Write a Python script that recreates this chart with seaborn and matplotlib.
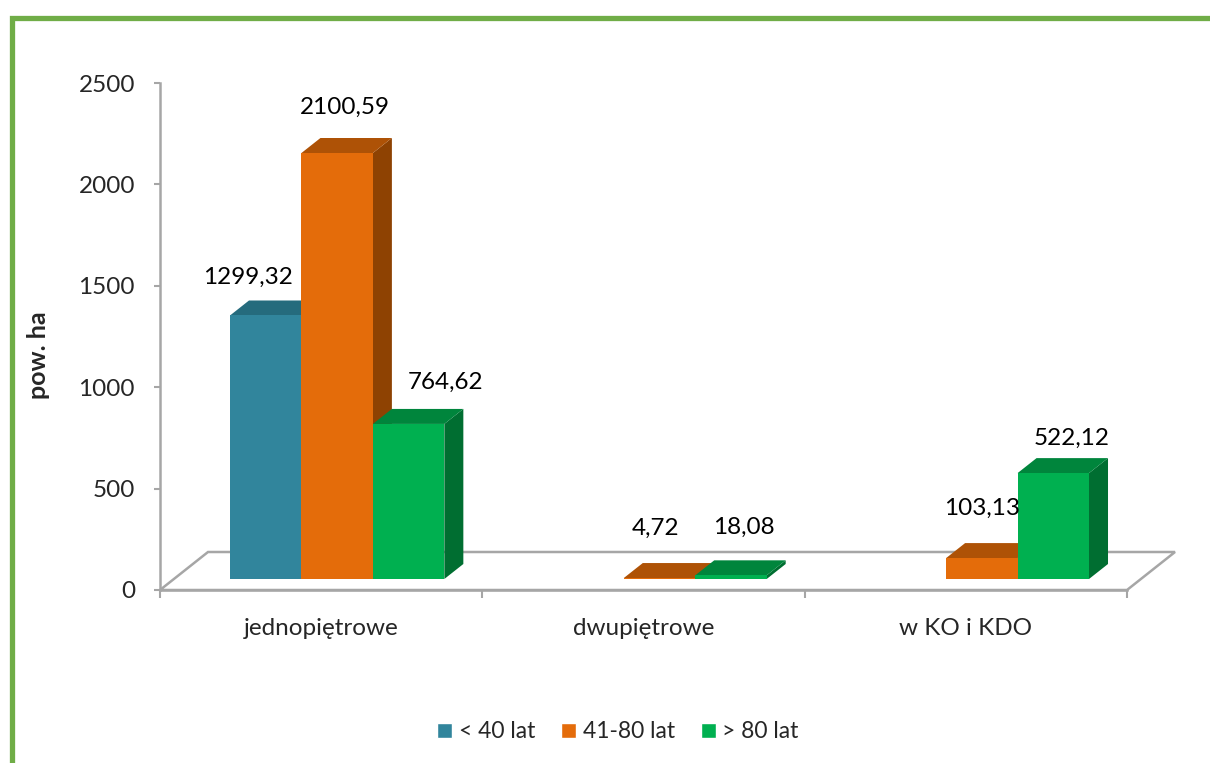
import numpy as np
import pandas as pd
import seaborn as sns
import matplotlib.pyplot as plt
from matplotlib.patches import Polygon, Rectangle, Patch

# chart data
categories = ["jednopiętrowe", "dwupiętrowe", "w KO i KDO"]
age_groups = ["< 40 lat", "41-80 lat", "> 80 lat"]
under_40 = [1299.32, 0.0, 0.0]
from_41_to_80 = [2100.59, 4.72, 103.13]
over_80 = [764.62, 18.08, 522.12]
y_ticks = [0, 500, 1000, 1500, 2000, 2500]

df = pd.DataFrame({
    "kategoria": categories * 3,
    "wiek": np.repeat(age_groups, 3),
    "pow": under_40 + from_41_to_80 + over_80,
})

front_col = {"< 40 lat": "#31859C", "41-80 lat": "#E46C0A", "> 80 lat": "#00B050"}
top_col = {"< 40 lat": "#256B7D", "41-80 lat": "#AE5206", "> 80 lat": "#00853C"}
side_col = {"< 40 lat": "#1E5868", "41-80 lat": "#8E4202", "> 80 lat": "#006E31"}

# label nudges in pixels (x, y above front top edge)
nudge = {"1299,32": (-18, 38), "2100,59": (8, 46), "764,62": (37, 42),
         "4,72": (-4, 50), "18,08": (13, 48), "103,13": (0, 50), "522,12": (18, 35)}

sns.set_style("white")
plt.rcParams["font.family"] = ["Lato", "DejaVu Sans"]
FS = 17.5

W, H = 1210, 763
fig = plt.figure(figsize=(W / 100, H / 100), dpi=100)
ax = fig.add_axes([160 / W, 173 / H, 967 / W, 507 / H])

sns.barplot(data=df, x="kategoria", y="pow", hue="wiek", hue_order=age_groups,
            palette=front_col, saturation=1, width=0.665, linewidth=0,
            legend=False, ax=ax)

ax.set_xlim(-0.5, 2.5)
ax.set_ylim(0, 2500)

# pixel -> data conversion
ppx = 967 / 3.0
ppy = 507 / 2500.0
fx, fy = 16 / ppx, 11 / ppy        # bar front plane offset
dx, dy = 19 / ppx, 15 / ppy        # bar depth
flx, fly = 48 / ppx, 38 / ppy      # floor depth

grey = "#A6A6A6"
# floor
floor = Polygon([(-0.5, 0), (2.5, 0), (2.5 + flx, fly), (-0.5 + flx, fly)],
                closed=True, fill=False, edgecolor=grey, lw=1.8, clip_on=False, zorder=1)
ax.add_patch(floor)

z = 2
for grp, cont in zip(age_groups, ax.containers):
    for bar in cont:
        h = bar.get_height()
        if not h or np.isnan(h):
            bar.set_visible(False)
            continue
        x0 = bar.get_x() + fx
        w = bar.get_width()
        x1 = x0 + w
        b = fy
        t = fy + h
        side = Polygon([(x1, b), (x1 + dx, b + dy), (x1 + dx, t + dy), (x1, t)],
                       closed=True, facecolor=side_col[grp], lw=0, clip_on=False, zorder=z)
        top = Polygon([(x0, t), (x1, t), (x1 + dx, t + dy), (x0 + dx, t + dy)],
                      closed=True, facecolor=top_col[grp], lw=0, clip_on=False, zorder=z)
        ax.add_patch(side)
        ax.add_patch(top)
        bar.set_x(x0)
        bar.set_y(b)
        bar.set_zorder(z + 0.5)
        bar.set_clip_on(False)
        lab = f"{h:.2f}".replace(".", ",")
        nx, ny = nudge.get(lab, (0, 40))
        ax.text(x0 + w / 2 + nx / ppx, t + ny / ppy, lab, ha="center", va="center",
                fontsize=FS, color="black", zorder=10, clip_on=False)
        z += 1

# axes styling
for s in ["top", "right"]:
    ax.spines[s].set_visible(False)
for s in ["left", "bottom"]:
    ax.spines[s].set_color(grey)
    ax.spines[s].set_linewidth(1.8)
    ax.spines[s].set_zorder(1)

ax.set_yticks(y_ticks)
ax.set_yticklabels([str(v) for v in y_ticks], fontsize=FS)
ax.tick_params(axis="y", left=True, length=4, width=1.5, color=grey, pad=14)
ax.set_xticks(range(len(categories)))
ax.set_xticklabels(categories, fontsize=FS)
ax.tick_params(axis="x", which="major", bottom=False, length=0, pad=20)
ax.set_xticks([-0.5, 0.5, 1.5, 2.5], minor=True)
ax.tick_params(axis="x", which="minor", bottom=True, length=6, width=1.5, color=grey)
ax.set_xlabel("")
ax.set_ylabel("")

fig.text(38 / W, 1 - 355 / H, "pow. ha", rotation=90, ha="center", va="center",
         fontsize=18, fontweight="bold")

handles = [Patch(facecolor=front_col[g], label=g) for g in age_groups]
fig.legend(handles=handles, loc="center", bbox_to_anchor=(618 / W, 1 - 732 / H),
           ncol=3, frameon=False, fontsize=16.5, handlelength=0.65, handleheight=0.65,
           handletextpad=0.28, columnspacing=1.15)

# green frame
fig.patches.append(Rectangle((12 / W, -0.1), 1.2, 1 - 18 / H + 0.1, transform=fig.transFigure,
                             fill=False, edgecolor="#70AD47", lw=3.8))

fig.savefig("out.png", dpi=100)
